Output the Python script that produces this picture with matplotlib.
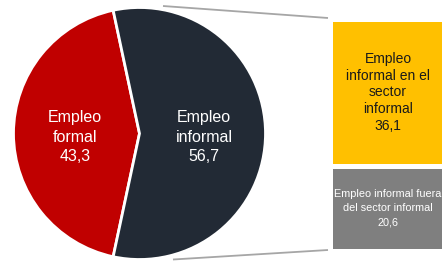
import matplotlib
matplotlib.use("Agg")
from matplotlib import pyplot as plt

plt.rcParams['font.family'] = ['Liberation Sans', 'DejaVu Sans']

pie_labels = ['Empleo\nformal', 'Empleo\ninformal']
pie_values = [43.3, 56.7]
pie_colors = ['#C00000', '#222A35']

bar_labels = ['Empleo informal fuera\ndel sector informal', 'Empleo\ninformal en el\nsector\ninformal']
bar_values = [20.6, 36.1]
bar_colors = ['#7F7F7F', '#FFC000']
bar_text_colors = ['white', '#1A1A1A']
bar_font = [7.8, 10]
bar_spacing = [1.55, 1.25]

def fmt(v):
    return '{:.1f}'.format(v).replace('.', ',')

W, H = 442, 261
fig = plt.figure(figsize=(W / 100, H / 100), dpi=100)

# pie, axes in pixel units (y up)
ax = fig.add_axes([0, 0, 1, 1])
cx, cy, r = 139.5, H - 133.5, 126
start = 180 - pie_values[0] / sum(pie_values) * 360 / 2
wedges, _ = ax.pie(pie_values, colors=pie_colors, startangle=start, center=(cx, cy),
                   radius=r, wedgeprops=dict(edgecolor='white', linewidth=2))
ax.text(75, H - 137, pie_labels[0] + '\n' + fmt(pie_values[0]), ha='center', va='center',
        color='white', fontsize=11.5, linespacing=1.4)
ax.text(204, H - 137, pie_labels[1] + '\n' + fmt(pie_values[1]), ha='center', va='center',
        color='white', fontsize=11.5, linespacing=1.4)

# connector lines
ax.plot([163, 328], [H - 6, H - 18], color='#A6A6A6', lw=1.3, solid_capstyle='butt')
ax.plot([173, 328], [H - 259.5, H - 250], color='#A6A6A6', lw=1.3, solid_capstyle='butt')
ax.set_xlim(0, W)
ax.set_ylim(0, H)
ax.set_aspect('auto')
ax.axis('off')

# stacked bar
bx = fig.add_axes([329.5 / W, (H - 250.5) / H, 1 - 329.5 / W, (250.5 - 18.5) / H])
bottom = 0
for val, col, lab, tc, fs, ls in zip(bar_values, bar_colors, bar_labels, bar_text_colors,
                                     bar_font, bar_spacing):
    bx.bar(0, val, bottom=bottom, width=1.1, align='edge', color=col,
           edgecolor='white', linewidth=3.6)
    bx.text(0.52, bottom + val / 2, lab + '\n' + fmt(val), ha='center', va='center',
            color=tc, fontsize=fs, linespacing=ls)
    bottom += val
bx.set_xlim(0, 1)
bx.set_ylim(0, sum(bar_values))
bx.axis('off')

fig.savefig('out.png', dpi=100)
